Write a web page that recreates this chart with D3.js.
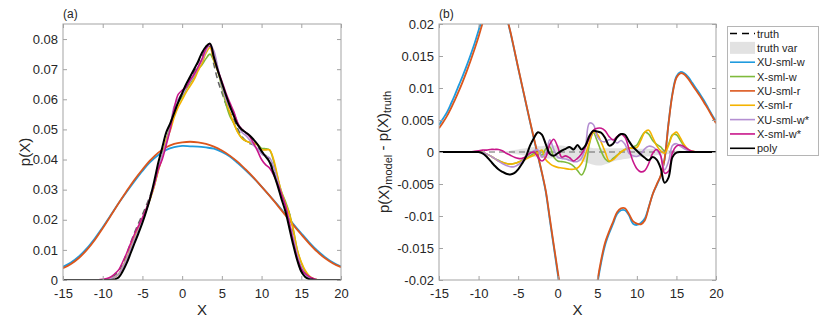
<!DOCTYPE html>
<html>
<head>
<meta charset="utf-8">
<title>p(X) model comparison</title>
<script src="https://cdn.jsdelivr.net/npm/d3@7"></script>
<style>
  body { margin: 0; background: #fff; }
  text { font-family: "Liberation Sans", Arial, Helvetica, sans-serif; fill: #262626; }
</style>
</head>
<body>
<svg id="mainsvg" width="830" height="319"></svg>
<script>
// ---- data ----
// fine grid for truth and the narrow models, step 0.5
const xGrid = [-15,-14.5,-14,-13.5,-13,-12.5,-12,-11.5,-11,-10.5,-10,-9.5,-9,-8.5,-8,-7.5,-7,-6.5,-6,-5.5,-5,-4.5,-4,-3.5,-3,-2.5,-2,-1.5,-1,-0.5,
  0,0.5,1,1.5,2,2.5,3,3.5,4,4.5,5,5.5,6,6.5,7,7.5,8,8.5,9,9.5,10,10.5,11,11.5,12,12.5,13,13.5,14,14.5,15,15.5,16,16.5,17,17.5,18,18.5,19,19.5,20];

const truth = [0,0,0,0,0,0,0,0,0,0,0,0.0002,0.0007,0.0016,0.0029,0.0055,0.0086,0.0122,0.0157,0.0188,0.0217,0.0248,0.0282,0.0320,0.0368,0.0409,0.0463,0.0508,0.0558,0.0596,
  0.0622,0.0648,0.0670,0.0692,0.0721,0.0744,0.0771,0.0775,0.0715,0.0662,0.0623,0.0585,0.0556,0.0535,0.0502,0.0477,0.0462,0.0453,0.0449,0.0442,0.0426,0.0414,0.0401,0.0368,0.0323,0.0282,0.0253,0.0220,0.0155,0.0073,0.0029,0.0010,0.0003,0.0001,0,0,0,0,0,0,0];

// truth variability band (panel b), relative to truth
const truthVarHi = [0,0,0,0,0,0,0,0,0,0,0,0,0,0,0,0,0,0.0001,0.0002,0.0003,0.0004,0.0005,0.0006,0.0007,0.0008,0.0009,0.0009,0.0010,0.0010,0.0010,
  0.0010,0.0010,0.0009,0.0009,0.0008,0.0008,0.0008,0.0007,0.0007,0.0006,0.0006,0.0006,0.0006,0.0006,0.0006,0.0006,0.0006,0.0006,0.0006,0.0006,0.0005,0.0005,0.0005,0.0005,0.0005,0.0004,0.0004,0.0004,0.0003,0.0003,0.0002,0.0002,0.0001,0,0,0,0,0,0,0,0];
const truthVarLo = [0,0,0,0,0,0,0,0,0,0,0,0,0,0,0,0,0,-0.0001,-0.0002,-0.0003,-0.0004,-0.0005,-0.0006,-0.0007,-0.0008,-0.0009,-0.0009,-0.0010,-0.0010,-0.0010,
  -0.0011,-0.0011,-0.0011,-0.0012,-0.0012,-0.0013,-0.0014,-0.0016,-0.0018,-0.0020,-0.0021,-0.0021,-0.0019,-0.0017,-0.0015,-0.0013,-0.0012,-0.0011,-0.0010,-0.0009,-0.0008,-0.0008,-0.0007,-0.0007,-0.0006,-0.0005,-0.0004,-0.0004,-0.0003,-0.0003,-0.0002,-0.0002,-0.0001,0,0,0,0,0,0,0,0];

// model minus truth (panel b), on xGrid
const diffXUsmlw = [0.0042,0.0052,0.0062,0.0075,0.0089,0.0104,0.0119,0.0135,0.0152,0.0170,0.0190,0.0210,0.0228,0.0242,0.0248,0.0245,0.0232,0.0212,0.0188,0.0160,0.0131,0.0103,0.0075,0.0047,0.0020,-0.0006,-0.0033,-0.0063,-0.0106,-0.0148,
  -0.0190,-0.0232,-0.0270,-0.0300,-0.0322,-0.0336,-0.0342,-0.0338,-0.0312,-0.0262,-0.0208,-0.0172,-0.0145,-0.0127,-0.0112,-0.0097,-0.0091,-0.0091,-0.0099,-0.0112,-0.0114,-0.0111,-0.0104,-0.0086,-0.0066,-0.0052,-0.0038,-0.0012,0.0045,0.0092,0.0118,0.0125,0.0123,0.0117,0.0108,0.0099,0.0090,0.0080,0.0069,0.0058,0.0048];
const diffXsmlw = [0,0,0,0,0,0,0,0,0,0,0,-0.0001,-0.0003,-0.0006,-0.0010,-0.0013,-0.0016,-0.0018,-0.0019,-0.0018,-0.0016,-0.0013,-0.0010,-0.0006,-0.0002,0.0002,-0.0005,0.0005,0.0008,-0.0008,
  -0.0014,-0.0015,-0.0016,-0.0018,-0.0022,-0.0029,-0.0036,-0.0025,0.0012,0.0030,0.0017,0.0001,-0.0011,-0.0015,-0.0010,-0.0005,0.0000,0.0004,0.0006,0.0008,0.0011,0.0022,0.0031,0.0028,0.0018,0.0012,0.0008,0.0002,0.0012,0.0027,0.0027,0.0018,0.0009,0.0003,0.0001,0,0,0,0,0,0];
const diffXUsmlr = [0.0037,0.0046,0.0056,0.0068,0.0081,0.0095,0.0110,0.0126,0.0143,0.0161,0.0180,0.0201,0.0220,0.0236,0.0244,0.0243,0.0232,0.0213,0.0189,0.0161,0.0132,0.0104,0.0076,0.0048,0.0021,-0.0005,-0.0032,-0.0061,-0.0103,-0.0145,
  -0.0186,-0.0228,-0.0266,-0.0296,-0.0318,-0.0332,-0.0338,-0.0334,-0.0308,-0.0258,-0.0204,-0.0168,-0.0141,-0.0124,-0.0109,-0.0094,-0.0088,-0.0088,-0.0097,-0.0108,-0.0112,-0.0113,-0.0107,-0.0087,-0.0066,-0.0051,-0.0037,-0.0011,0.0044,0.0090,0.0116,0.0123,0.0121,0.0114,0.0105,0.0096,0.0087,0.0077,0.0067,0.0056,0.0045];
const diffXsmlr = [0,0,0,0,0,0,0,0,0,0,0,-0.0001,-0.0003,-0.0006,-0.0010,-0.0014,-0.0016,-0.0018,-0.0019,-0.0018,-0.0016,-0.0014,-0.0011,-0.0008,-0.0005,-0.0001,0.0003,-0.0012,-0.0018,-0.0022,
  -0.0024,-0.0025,-0.0026,-0.0027,-0.0027,-0.0025,-0.0018,-0.0004,0.0015,0.0031,0.0028,0.0015,0.0000,-0.0014,-0.0012,-0.0006,0.0000,0.0004,0.0006,0.0006,0.0007,0.0018,0.0031,0.0034,0.0023,0.0010,0.0002,-0.0002,0.0010,0.0026,0.0031,0.0022,0.0011,0.0004,0.0001,0,0,0,0,0,0];
const diffXUsmlwStar = [0,0,0,0,0,0,0,0,0,0,0,-0.0001,-0.0003,-0.0006,-0.0010,-0.0014,-0.0018,-0.0021,-0.0023,-0.0023,-0.0020,-0.0015,-0.0008,-0.0002,0.0002,0.0003,-0.0008,-0.0002,0.0019,0.0004,
  -0.0008,-0.0010,-0.0011,-0.0013,-0.0015,-0.0015,-0.0010,0.0008,0.0045,0.0043,0.0024,0.0017,0.0016,0.0019,0.0019,0.0014,0.0018,0.0012,-0.0002,-0.0006,-0.0007,-0.0003,0.0005,0.0009,0.0008,0.0003,-0.0006,-0.0028,-0.0015,0.0010,0.0013,0.0009,0.0005,0.0002,0,0,0,0,0,0,0];
const diffXsmlwStar = [0,0,0,0,0,0,0,0,0,0.0001,0.0002,0.0003,0.0003,0.0004,0.0004,0.0004,0.0002,-0.0002,-0.0005,-0.0008,-0.0010,-0.0010,-0.0007,-0.0002,0.0000,-0.0008,-0.0014,-0.0008,0.0012,0.0020,
  0.0008,-0.0008,-0.0006,-0.0009,-0.0014,-0.0010,-0.0003,0.0008,0.0022,0.0034,0.0037,0.0037,0.0033,0.0024,0.0019,0.0024,0.0028,0.0023,0.0005,-0.0014,-0.0026,-0.0031,-0.0029,-0.0018,-0.0002,0.0004,-0.0005,-0.0033,-0.0030,-0.0001,0.0009,0.0011,0.0008,0.0004,0.0001,0,0,0,0,0,0];
const diffPoly = [0,0,0,0,0,0,0,0,0,0,0,-0.0002,-0.0007,-0.0014,-0.0021,-0.0027,-0.0031,-0.0034,-0.0035,-0.0033,-0.0027,-0.0018,-0.0007,0.0010,0.0022,0.0031,0.0027,0.0012,-0.0003,-0.0006,
  -0.0002,0.0002,0.0005,0.0008,0.0004,0.0011,0.0004,0.0010,0.0025,0.0033,0.0032,0.0030,0.0022,0.0010,0.0013,0.0023,0.0028,0.0027,0.0017,0.0008,0.0002,-0.0004,-0.0009,-0.0013,-0.0008,-0.0012,-0.0025,-0.0048,-0.0040,-0.0008,-0.0001,0,0,0,0,0,0,0,0,0,0];

// wide models in panel a, step 1
const xCoarse = [-15,-14,-13,-12,-11,-10,-9,-8,-7,-6,-5,-4,-3,-2,-1,0,1,2,3,4,5,6,7,8,9,10,11,12,13,14,15,16,17,18,19,20];
const pXUsmlw = [0.0044,0.0058,0.0078,0.0105,0.0138,0.0175,0.0215,0.0255,0.0292,0.0328,0.0362,0.0392,0.0415,0.0432,0.0441,0.0445,0.0444,0.0443,0.0440,0.0436,0.0425,0.0410,0.0388,0.0364,0.0338,0.0310,0.0280,0.0250,0.0218,0.0186,0.0155,0.0125,0.0098,0.0076,0.0058,0.0045];
const pXUsmlr = [0.0039,0.0053,0.0073,0.0100,0.0133,0.0172,0.0213,0.0255,0.0295,0.0333,0.0367,0.0398,0.0423,0.0441,0.0452,0.0457,0.0459,0.0457,0.0452,0.0443,0.0430,0.0413,0.0392,0.0367,0.0340,0.0310,0.0280,0.0248,0.0215,0.0182,0.0151,0.0121,0.0094,0.0072,0.0055,0.0043];

// ticks
const xTicks = [-15,-10,-5,0,5,10,15,20];
const xTickLabels = ['-15','-10','-5','0','5','10','15','20'];
const yTicksA = [0,0.01,0.02,0.03,0.04,0.05,0.06,0.07,0.08];
const yTickLabelsA = ['0','0.01','0.02','0.03','0.04','0.05','0.06','0.07','0.08'];
const yTicksB = [-0.02,-0.015,-0.01,-0.005,0,0.005,0.01,0.015,0.02];
const yTickLabelsB = ['-0.02','-0.015','-0.01','-0.005','0','0.005','0.01','0.015','0.02'];

const seriesNames = ['XU-sml-w','X-sml-w','XU-sml-r','X-sml-r','XU-sml-w*','X-sml-w*','poly'];
const seriesColors = ['#1f9bde','#7fba3c','#dc561c','#f4b300','#b48fd2','#c8168a','#000000'];

// ---- drawing ----
const svg = d3.select('#mainsvg');
const frameColor = '#a3a3a3';

function makePanel(name, left, right, top, bottom, yDomain, yTicks, yLabels) {
  const x = d3.scaleLinear().domain([-15, 20]).range([left, right]);
  const y = d3.scaleLinear().domain(yDomain).range([bottom, top]);
  const g = svg.append('g').attr('id', 'panel-' + name);

  svg.append('clipPath').attr('id', 'clip-' + name)
    .append('rect').attr('x', left).attr('y', top).attr('width', right - left).attr('height', bottom - top);
  const plot = g.append('g').attr('clip-path', `url(#clip-${name})`);

  const fmtX = d => xTickLabels[xTicks.indexOf(d)];
  const fmtY = d => yLabels[yTicks.indexOf(d)];
  const axes = [
    [d3.axisBottom(x).tickValues(xTicks).tickFormat(fmtX).tickPadding(9), `translate(0,${bottom})`],
    [d3.axisTop(x).tickValues(xTicks).tickFormat(''), `translate(0,${top})`],
    [d3.axisLeft(y).tickValues(yTicks).tickFormat(fmtY).tickPadding(5), `translate(${left},0)`],
    [d3.axisRight(y).tickValues(yTicks).tickFormat(''), `translate(${right},0)`]
  ];
  axes.forEach(([ax, tr]) => {
    const a = g.append('g').attr('transform', tr)
      .call(ax.tickSizeInner(-4).tickSizeOuter(0));
    a.select('.domain').remove();
    a.selectAll('line').attr('stroke', frameColor);
    a.selectAll('text').style('font-size', '13px').attr('fill', '#262626')
      .style('font-family', '"Liberation Sans", Arial, sans-serif');
  });
  g.append('rect').attr('x', left).attr('y', top).attr('width', right - left).attr('height', bottom - top)
    .attr('fill', 'none').attr('stroke', frameColor).attr('stroke-width', 1);

  svg.append('text').attr('x', left).attr('y', 18).style('font-size', '12px').text(`(${name})`);
  svg.append('text').attr('x', (left + right) / 2).attr('y', 315).attr('text-anchor', 'middle')
    .style('font-size', '15px').text('X');
  return { x, y, plot };
}

function drawLine(p, xs, ys, color, width, dash) {
  const line = d3.line().x((d, i) => p.x(xs[i])).y(d => p.y(d)).curve(d3.curveCatmullRom.alpha(0.5));
  const path = p.plot.append('path').datum(ys).attr('d', line)
    .attr('fill', 'none').attr('stroke', color).attr('stroke-width', width)
    .attr('stroke-linejoin', 'round');
  if (dash) path.attr('stroke-dasharray', dash);
}

const diffs = [diffXUsmlw, diffXsmlw, diffXUsmlr, diffXsmlr, diffXUsmlwStar, diffXsmlwStar, diffPoly];

// panel (a)
const pa = makePanel('a', 63, 341, 24, 280, [0, 0.085], yTicksA, yTickLabelsA);
drawLine(pa, xGrid, truth, '#666', 1.6, '6,4');
seriesNames.forEach((s, k) => {
  if (k === 0) drawLine(pa, xCoarse, pXUsmlw, seriesColors[k], 1.8);
  else if (k === 2) drawLine(pa, xCoarse, pXUsmlr, seriesColors[k], 1.8);
  else drawLine(pa, xGrid, truth.map((t, i) => t + diffs[k][i]), seriesColors[k], k === 6 ? 2 : 1.6);
});

// panel (b)
const pb = makePanel('b', 439, 716, 24, 280, [-0.02, 0.02], yTicksB, yTickLabelsB);
const band = d3.area().x((d, i) => pb.x(xGrid[i])).y0((d, i) => pb.y(truthVarLo[i])).y1(d => pb.y(d))
  .curve(d3.curveCatmullRom.alpha(0.5));
pb.plot.append('path').datum(truthVarHi).attr('d', band).attr('fill', '#e2e2e2');
drawLine(pb, xGrid, xGrid.map(() => 0), '#666', 1.2, '6,4');
seriesNames.forEach((s, k) => {
  drawLine(pb, xGrid, diffs[k], seriesColors[k], k === 6 ? 2 : (k === 0 || k === 2 ? 1.8 : 1.6));
});

// y labels
svg.append('text').attr('transform', 'translate(30,152) rotate(-90)').attr('text-anchor', 'middle')
  .style('font-size', '15px').text('p(X)');
const yl = svg.append('text').attr('transform', 'translate(389,152) rotate(-90)').attr('text-anchor', 'middle')
  .style('font-size', '15px');
yl.append('tspan').text('p(X)');
yl.append('tspan').attr('dy', '0.3em').style('font-size', '11px').text('model');
yl.append('tspan').attr('dy', '-0.3em').text(' - p(X)');
yl.append('tspan').attr('dy', '0.3em').style('font-size', '11px').text('truth');

// legend
const lg = svg.append('g').attr('id', 'legend');
lg.append('rect').attr('x', 727.5).attr('y', 26.5).attr('width', 91).attr('height', 129)
  .attr('fill', '#fff').attr('stroke', '#b5b5b5');
const legendNames = ['truth', 'truth var'].concat(seriesNames);
legendNames.forEach((n, i) => {
  const yy = 33.5 + i * 14.35;
  if (i === 0) {
    lg.append('line').attr('x1', 730).attr('x2', 755).attr('y1', yy).attr('y2', yy)
      .attr('stroke', '#000').attr('stroke-width', 1.6).attr('stroke-dasharray', '7,5');
  } else if (i === 1) {
    lg.append('rect').attr('x', 730).attr('y', yy - 6).attr('width', 25).attr('height', 12).attr('fill', '#e2e2e2');
  } else {
    lg.append('line').attr('x1', 730).attr('x2', 755).attr('y1', yy).attr('y2', yy)
      .attr('stroke', seriesColors[i - 2]).attr('stroke-width', 1.6);
  }
  lg.append('text').attr('x', 757).attr('y', yy + 4).style('font-size', '11px').text(n);
});
</script>
</body>
</html>
